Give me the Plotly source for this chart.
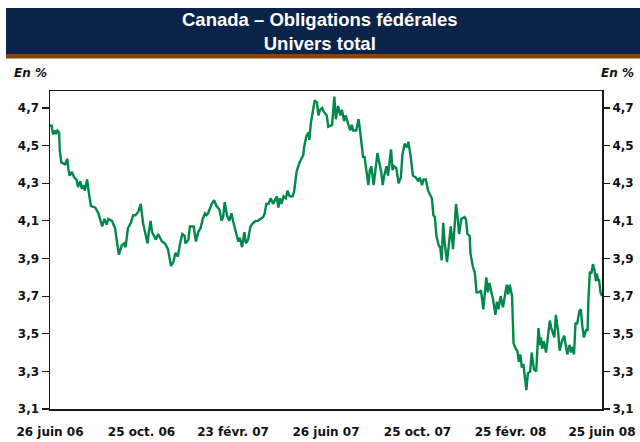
import pandas as pd
import plotly.graph_objects as go

# ---- data ----
start_date = "2006-06-26"
day_offsets = [
    0, 2, 4, 7, 8, 10, 12, 13, 15, 20, 23, 24, 26, 29, 32, 35, 37, 40, 42, 44,
    46, 49, 51, 54, 60, 64, 69, 72, 75, 77, 82, 86, 91, 95, 98, 100, 103, 107, 110, 113,
    117, 120, 123, 126, 129, 131, 133, 135, 140, 143, 148, 152, 156, 160, 163, 166, 169, 172, 175, 178,
    179, 183, 185, 190, 193, 196, 199, 202, 205, 207, 209, 214, 217, 220, 224, 227, 229, 231, 234, 237,
    240, 242, 246, 249, 251, 254, 257, 259, 262, 265, 269, 272, 275, 279, 282, 284, 286, 289, 292, 295,
    298, 300, 302, 304, 306, 309, 312, 314, 317, 321, 323, 325, 326, 330, 332, 335, 336, 339, 342, 343,
    345, 347, 350, 353, 355, 357, 360, 362, 366, 368, 373, 376, 378, 381, 384, 386, 389, 391, 394, 397,
    399, 401, 405, 408, 410, 414, 416, 419, 421, 423, 425, 428, 430, 433, 435, 438, 440, 442, 445, 447,
    451, 453, 455, 458, 461, 464, 466, 469, 472, 474, 477, 480, 484, 487, 489, 492, 494, 497, 500, 503,
    505, 507, 509, 511, 514, 516, 518, 520, 522, 525, 528, 530, 533, 537, 539, 541, 544, 548, 550, 552,
    555, 556, 559, 562, 564, 567, 570, 571, 573, 577, 579, 581, 584, 586, 589, 591, 593, 596, 599, 602,
    604, 606, 608, 611, 613, 616, 618, 620, 622, 624, 626, 628, 630, 632, 635, 637, 640, 643, 646, 648,
    649, 651, 653, 656, 659, 661, 663, 667, 669, 672, 674, 677, 680, 682, 684, 687, 689, 691, 693, 695,
    697, 700, 702, 704, 706, 709, 711, 712, 714, 716, 718, 720, 722, 723, 725, 726, 728, 730,
]
yields = [
    4.60, 4.61, 4.56, 4.58, 4.56, 4.58, 4.57, 4.47, 4.41, 4.40, 4.43, 4.38, 4.34, 4.36, 4.33, 4.32, 4.28, 4.31, 4.27, 4.29,
    4.26, 4.32, 4.26, 4.18, 4.17, 4.14, 4.07, 4.11, 4.08, 4.11, 4.10, 4.06, 3.92, 3.97, 3.98, 3.96, 4.06, 4.09, 4.13, 4.13,
    4.15, 4.19, 4.09, 4.03, 3.98, 4.05, 4.10, 4.04, 4.00, 4.03, 3.99, 3.98, 3.95, 3.86, 3.88, 3.93, 3.91, 3.98, 4.03, 4.02,
    3.98, 4.00, 4.07, 4.07, 3.99, 4.04, 4.06, 4.11, 4.14, 4.13, 4.14, 4.19, 4.21, 4.18, 4.16, 4.10, 4.12, 4.20, 4.13, 4.10,
    4.14, 4.10, 4.03, 3.99, 4.01, 3.96, 4.04, 3.98, 4.00, 4.07, 4.09, 4.10, 4.10, 4.11, 4.12, 4.14, 4.19, 4.19, 4.22, 4.19,
    4.21, 4.23, 4.17, 4.22, 4.19, 4.23, 4.22, 4.26, 4.23, 4.23, 4.26, 4.31, 4.36, 4.41, 4.43, 4.45, 4.49, 4.55, 4.57, 4.53,
    4.62, 4.67, 4.74, 4.73, 4.66, 4.69, 4.70, 4.68, 4.66, 4.60, 4.61, 4.76, 4.64, 4.71, 4.66, 4.69, 4.63, 4.66, 4.62, 4.58,
    4.61, 4.58, 4.58, 4.64, 4.58, 4.44, 4.44, 4.35, 4.29, 4.37, 4.39, 4.29, 4.37, 4.46, 4.42, 4.36, 4.29, 4.34, 4.39, 4.34,
    4.48, 4.37, 4.39, 4.38, 4.30, 4.33, 4.45, 4.51, 4.49, 4.52, 4.44, 4.34, 4.33, 4.31, 4.33, 4.29, 4.32, 4.32, 4.26, 4.23,
    4.22, 4.13, 4.12, 4.02, 3.97, 3.96, 3.89, 4.09, 3.98, 3.88, 4.02, 4.07, 3.95, 4.19, 4.12, 4.03, 4.11, 4.12, 4.11, 4.03,
    4.02, 3.93, 3.86, 3.82, 3.72, 3.72, 3.73, 3.70, 3.63, 3.80, 3.72, 3.77, 3.72, 3.68, 3.60, 3.67, 3.63, 3.70, 3.64, 3.71,
    3.76, 3.71, 3.76, 3.70, 3.45, 3.42, 3.41, 3.35, 3.39, 3.32, 3.34, 3.27, 3.20, 3.29, 3.30, 3.40, 3.31, 3.30, 3.53, 3.44,
    3.48, 3.42, 3.46, 3.40, 3.50, 3.57, 3.53, 3.48, 3.60, 3.51, 3.41, 3.46, 3.49, 3.45, 3.39, 3.44, 3.40, 3.43, 3.39, 3.56,
    3.55, 3.62, 3.63, 3.54, 3.48, 3.52, 3.52, 3.68, 3.83, 3.82, 3.87, 3.84, 3.78, 3.82, 3.78, 3.79, 3.72, 3.70,
]
y_tick_values = [3.1, 3.3, 3.5, 3.7, 3.9, 4.1, 4.3, 4.5, 4.7]
y_tick_labels = ["3,1", "3,3", "3,5", "3,7", "3,9", "4,1", "4,3", "4,5", "4,7"]
x_tick_dates = ["2006-06-26", "2006-10-25", "2007-02-23", "2007-06-26",
                "2007-10-25", "2008-02-25", "2008-06-25"]
x_tick_labels = ["26 juin 06", "25 oct. 06", "23 févr. 07", "26 juin 07",
                 "25 oct. 07", "25 févr. 08", "25 juin 08"]
title_lines = ["Canada – Obligations fédérales", "Univers total"]
unit_label = "En %"

dates = pd.Timestamp(start_date) + pd.to_timedelta(day_offsets, unit="D")

# ---- layout geometry (pixels) ----
W, H = 640, 442
L, R, T, B = 50, 38, 91, 33
PW, PH = W - L - R, H - T - B


def px_x(x):
    return (x - L) / PW


def px_y(y):
    return (H - B - y) / PH


AX = "#1a1a1a"
TICKFONT = dict(family="DejaVu Sans", size=12, color="#111111", weight="bold")
Y_RANGE = [3.1, 4.79]

fig = go.Figure()
fig.add_trace(go.Scatter(
    x=dates, y=yields, mode="lines",
    line=dict(color="#00894b", width=2.4),
    showlegend=False, hoverinfo="skip",
))
# invisible companion so the right-hand axis is drawn
fig.add_trace(go.Scatter(
    x=[dates[0]], y=[yields[0]], yaxis="y2", mode="markers",
    marker=dict(opacity=0), showlegend=False, hoverinfo="skip",
))

fig.update_layout(
    width=W, height=H,
    margin=dict(l=L, r=R, t=T, b=B, pad=0, autoexpand=False),
    paper_bgcolor="white", plot_bgcolor="white",
    showlegend=False,
    xaxis=dict(
        type="date", range=[x_tick_dates[0], x_tick_dates[-1]],
        tickmode="array", tickvals=x_tick_dates, ticktext=x_tick_labels,
        ticks="", showgrid=False, zeroline=False, automargin=False,
        showline=True, linecolor=AX, linewidth=1.5, mirror=True,
        tickfont=TICKFONT, ticklabelstandoff=11,
    ),
    yaxis=dict(
        range=Y_RANGE, tickmode="array",
        tickvals=y_tick_values, ticktext=y_tick_labels,
        ticks="outside", ticklen=7, tickwidth=1.2, tickcolor=AX,
        showgrid=False, zeroline=False, automargin=False,
        showline=True, linecolor=AX, linewidth=1.5, mirror=True,
        tickfont=TICKFONT,
    ),
    yaxis2=dict(
        range=Y_RANGE, tickmode="array",
        tickvals=y_tick_values, ticktext=y_tick_labels,
        overlaying="y", side="right", anchor="x",
        ticks="outside", ticklen=7, tickwidth=1.2, tickcolor=AX,
        showgrid=False, zeroline=False, showline=False, automargin=False,
        tickfont=TICKFONT,
    ),
)

# banner
fig.add_shape(type="rect", xref="paper", yref="paper",
              x0=px_x(6), x1=px_x(641), y0=px_y(54), y1=px_y(8),
              fillcolor="#0b2348", line_width=0, layer="below")
fig.add_shape(type="rect", xref="paper", yref="paper",
              x0=px_x(6), x1=px_x(641), y0=px_y(58.5), y1=px_y(54),
              fillcolor="#85450d", line_width=0, layer="below")

fig.add_annotation(
    xref="paper", yref="paper", x=px_x(320), y=px_y(31.5),
    text="<br>".join(title_lines), showarrow=False,
    xanchor="center", yanchor="middle", align="center",
    font=dict(family="Liberation Sans, Arial", size=18.5, color="white", weight="bold"),
)
for xa, anchor in ((12, "left"), (636, "right")):
    fig.add_annotation(
        xref="paper", yref="paper", x=px_x(xa), y=px_y(73),
        text=unit_label, showarrow=False, xanchor=anchor, yanchor="middle",
        font=dict(family="DejaVu Sans", size=12, color="#111111",
                  weight="bold", style="italic"),
    )

fig.write_html(
    "out.html",
    config={"displayModeBar": False, "staticPlot": True},
    post_script="document.body.style.margin='0';document.body.style.padding='0';",
)
